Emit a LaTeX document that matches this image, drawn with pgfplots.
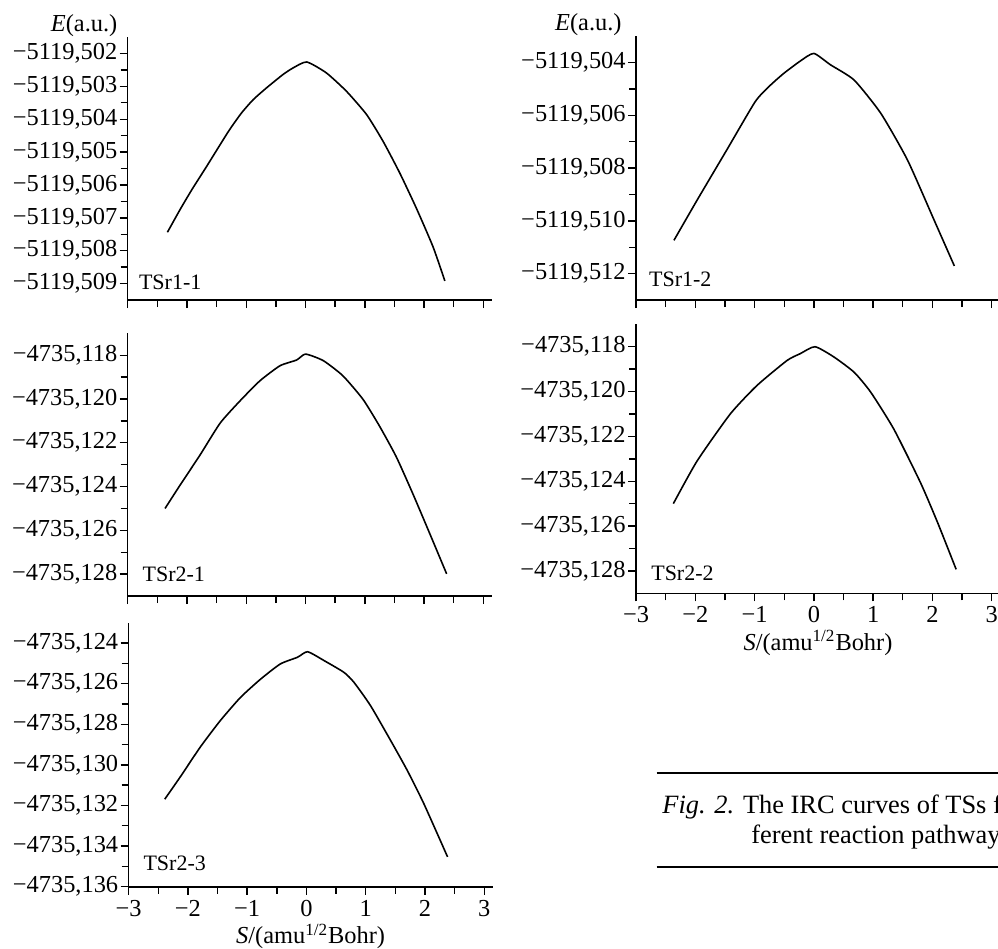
\documentclass[border=0pt]{standalone}
\usepackage{fontspec}
\setmainfont{Liberation Serif}
\usepackage{pgfplots}
\usepackage{pgfplotstable}
\pgfplotsset{compat=1.18}

% energies in 10^-3 a.u. relative to -5119.500 (TSr1) and -4735.100 (TSr2)
\pgfplotstableread{
S      dE
-2.33  -7.44
-2.12  -6.76
-1.92  -6.15
-1.67  -5.44
-1.30  -4.37
-1.08  -3.81
-0.88  -3.40
-0.66  -3.05
-0.38  -2.64
-0.21  -2.44
 0.02  -2.26
 0.35  -2.59
 0.69  -3.15
 1.03  -3.86
 1.31  -4.68
 1.59  -5.64
 1.87  -6.71
 2.15  -7.88
 2.35  -8.92
}\tsrAA
\pgfplotstableread{
S      dE
-2.36  -10.74
-1.97  -9.22
-1.47  -7.32
-0.99  -5.49
-0.75  -4.90
-0.51  -4.42
-0.23  -3.95
 0.00  -3.66
 0.28  -4.09
 0.68  -4.67
 1.13  -5.93
 1.58  -7.70
 2.03  -9.98
 2.37  -11.71
}\tsrAB
\pgfplotstableread{
S      dE
-2.37  -25.00
-2.12  -23.95
-1.78  -22.56
-1.44  -21.10
-1.11  -20.10
-0.77  -19.17
-0.43  -18.48
-0.15  -18.22
 0.00  -17.95
 0.30  -18.25
 0.63  -18.94
 0.97  -20.02
 1.25  -21.25
 1.53  -22.64
 1.81  -24.33
 2.10  -26.18
 2.38  -27.99
}\tsrBA
\pgfplotstableread{
S      dE
-2.37  -25.00
-1.97  -23.10
-1.41  -21.00
-0.96  -19.73
-0.45  -18.61
-0.23  -18.31
 0.02  -18.00
 0.34  -18.46
 0.68  -19.14
 0.96  -20.03
 1.35  -21.68
 1.80  -24.07
 2.09  -25.86
 2.40  -27.93
}\tsrBB
\pgfplotstableread{
S      dE
-2.39  -31.69
-2.13  -30.60
-1.79  -29.12
-1.45  -27.81
-1.11  -26.67
-0.77  -25.77
-0.44  -25.03
-0.15  -24.70
 0.02  -24.43
 0.30  -24.87
 0.63  -25.44
 0.80  -25.93
 1.08  -27.08
 1.42  -28.80
 1.70  -30.27
 1.98  -31.91
 2.38  -34.53
}\tsrBC

\pgfplotsset{
  irc/.style={
    scale only axis,
    width=182pt,
    xmin=-3, xmax=3.14,
    axis x line=bottom, axis y line=left,
    x axis line style={-}, y axis line style={-},
    axis line style={line width=0.8pt},
    tick style={black, line width=0.7pt},
    tick align=outside,
    major tick length=4pt, minor tick length=3.5pt,
    xtick={-3,-2,-1,0,1,2,3},
    minor x tick num=1,
    minor y tick num=1,
    font=\fontsize{12.2}{14}\selectfont,
    yticklabel style={inner xsep=1pt},
    xticklabel style={inner ysep=2.5pt},
    clip=false,
  },
  curve/.style={black, line width=0.8pt, smooth, tension=0.35},
  noxlab/.style={xticklabels={}},
  withxlab/.style={
    xticklabels={−3,−2,−1,0,1,2,3},
    xlabel={\textit{S}/(amu\textsuperscript{1/2}Bohr)},
    xlabel style={inner ysep=1pt},
  },
}

\begin{document}
\begin{tikzpicture}
\useasboundingbox (0,0) rectangle (499pt,-474.5pt);
\clip (0,0) rectangle (499pt,-474.5pt);

% TSr1-1
\begin{axis}[irc, noxlab, at={(63.85pt,-150pt)}, anchor=south west,
  height=131.5pt, ymin=-9.5, ymax=-1.5,
  ytick={-2,-3,-4,-5,-6,-7,-8,-9},
  yticklabels={{−5119,502},{−5119,503},{−5119,504},{−5119,505},{−5119,506},{−5119,507},{−5119,508},{−5119,509}}]
  \addplot[curve] table[x=S, y=dE] {\tsrAA};
  \node[anchor=base west, inner sep=0, font=\fontsize{11}{13}\selectfont] at (rel axis cs:0.03,0.04) {TSr1-1};
  \node[anchor=base east, inner sep=0] at ([xshift=-5pt, yshift=2.7pt]rel axis cs:0,1) {\textit{E}(a.u.)};
\end{axis}

% TSr1-2
\begin{axis}[irc, noxlab, at={(318pt,-150pt)}, anchor=south west,
  height=132pt, ymin=-13, ymax=-3,
  ytick={-4,-6,-8,-10,-12},
  yticklabels={{−5119,504},{−5119,506},{−5119,508},{−5119,510},{−5119,512}}]
  \addplot[curve] table[x=S, y=dE] {\tsrAB};
  \node[anchor=base west, inner sep=0, font=\fontsize{11}{13}\selectfont] at (rel axis cs:0.035,0.05) {TSr1-2};
  \node[anchor=base east, inner sep=0] at ([xshift=-7pt, yshift=2.7pt]rel axis cs:0,1) {\textit{E}(a.u.)};
\end{axis}

% TSr2-1
\begin{axis}[irc, noxlab, at={(63.85pt,-298pt)}, anchor=south west,
  height=131.35pt, ymin=-29, ymax=-17,
  ytick={-18,-20,-22,-24,-26,-28},
  yticklabels={{−4735,118},{−4735,120},{−4735,122},{−4735,124},{−4735,126},{−4735,128}}]
  \addplot[curve] table[x=S, y=dE] {\tsrBA};
  \node[anchor=base west, inner sep=0, font=\fontsize{11}{13}\selectfont] at (rel axis cs:0.04,0.054) {TSr2-1};
\end{axis}

% TSr2-2
\begin{axis}[irc, withxlab, at={(318pt,-296.65pt)}, anchor=south west,
  height=134.5pt, ymin=-29, ymax=-17,
  ytick={-18,-20,-22,-24,-26,-28},
  yticklabels={{−4735,118},{−4735,120},{−4735,122},{−4735,124},{−4735,126},{−4735,128}}]
  \addplot[curve] table[x=S, y=dE] {\tsrBB};
  \node[anchor=base west, inner sep=0, font=\fontsize{11}{13}\selectfont] at (rel axis cs:0.041,0.046) {TSr2-2};
\end{axis}

% TSr2-3
\begin{axis}[irc, withxlab, at={(64.3pt,-443.35pt)}, anchor=south west,
  height=132pt, ymin=-36, ymax=-23,
  ytick={-24,-26,-28,-30,-32,-34,-36},
  yticklabels={{−4735,124},{−4735,126},{−4735,128},{−4735,130},{−4735,132},{−4735,134},{−4735,136}}]
  \addplot[curve] table[x=S, y=dE] {\tsrBC};
  \node[anchor=base west, inner sep=0, font=\fontsize{11}{13}\selectfont] at (rel axis cs:0.04,0.06) {TSr2-3};
\end{axis}

% caption box
\draw[line width=1pt] (328.3pt,-386.7pt) -- (505pt,-386.7pt);
\draw[line width=1pt] (328.3pt,-433.7pt) -- (505pt,-433.7pt);
\node[anchor=base west, inner sep=0, font=\fontsize{13.2}{15}\selectfont] at (331pt,-406.5pt) {\textit{Fig. 2.} The IRC curves of TSs for the dif-};
\node[anchor=base west, inner sep=0, font=\fontsize{13.2}{15}\selectfont] at (375.5pt,-421.5pt) {ferent reaction pathways};
\end{tikzpicture}
\end{document}
